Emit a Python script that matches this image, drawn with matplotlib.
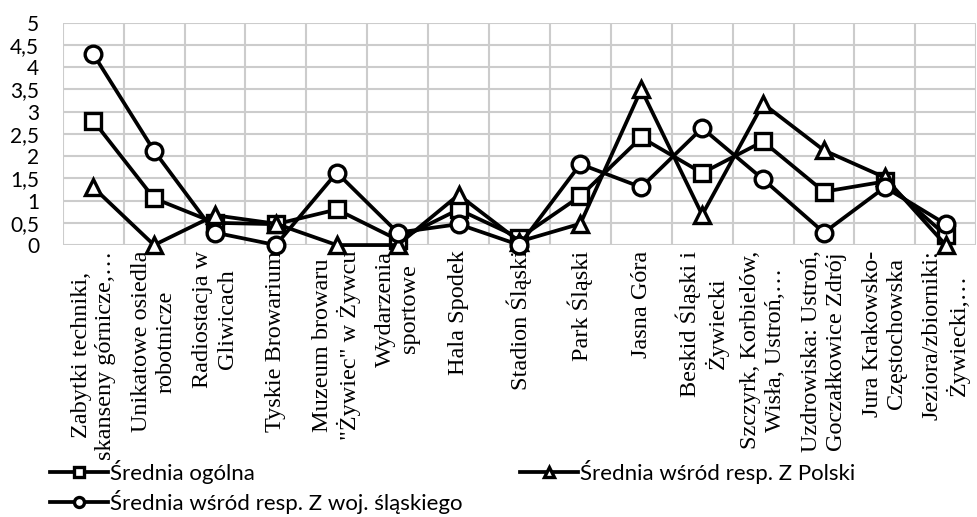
import matplotlib.pyplot as plt
from matplotlib.ticker import MultipleLocator, FuncFormatter

# dane
kategorie = [
    "Zabytki techniki,\nskanseny górnicze,…",
    "Unikatowe osiedla\nrobotnicze",
    "Radiostacja w\nGliwicach",
    "Tyskie Browarium",
    "Muzeum browaru\n\"Żywiec\" w Żywcu",
    "Wydarzenia\nsportowe",
    "Hala Spodek",
    "Stadion Śląski",
    "Park Śląski",
    "Jasna Góra",
    "Beskid Śląski i\nŻywiecki",
    "Szczyrk, Korbielów,\nWisła, Ustroń,…",
    "Uzdrowiska: Ustroń,\nGoczałkowice Zdrój",
    "Jura Krakowsko-\nCzęstochowska",
    "Jeziora/zbiorniki:\nŻywiecki,…",
]
srednia_ogolna = [2.8, 1.05, 0.5, 0.47, 0.8, 0.12, 0.8, 0.16, 1.1, 2.42, 1.62, 2.33, 1.2, 1.43, 0.22]
srednia_polska = [1.3, 0.0, 0.67, 0.48, 0.0, 0.0, 1.13, 0.08, 0.48, 3.5, 0.68, 3.18, 2.13, 1.52, 0.0]
srednia_slask = [4.3, 2.12, 0.28, 0.0, 1.63, 0.28, 0.47, 0.0, 1.82, 1.3, 2.63, 1.48, 0.28, 1.3, 0.47]

x = list(range(len(kategorie)))

fig = plt.figure(figsize=(9.77, 5.17), dpi=100)
ax = fig.add_axes([0.0642, 0.526, 0.935, 0.430])

styl = dict(color='black', linewidth=2.7, markerfacecolor='white',
            markeredgecolor='black', markeredgewidth=2.4)
l1, = ax.plot(x, srednia_ogolna, marker='s', markersize=11, label='Średnia ogólna', **styl)
l2, = ax.plot(x, srednia_polska, marker='^', markersize=11, label='Średnia wśród resp. Z Polski', **styl)
l3, = ax.plot(x, srednia_slask, marker='o', markersize=12, label='Średnia wśród resp. Z woj. śląskiego', **styl)
for l in (l1, l2, l3):
    l.set_clip_on(False)

ax.set_xlim(-0.5, len(kategorie) - 0.5)
ax.set_ylim(0, 5)
ax.yaxis.set_major_locator(MultipleLocator(0.5))
ax.yaxis.set_major_formatter(FuncFormatter(lambda v, p: f"{v:g}".replace('.', ',')))
ax.set_xticks(x)
ax.set_xticklabels(kategorie, rotation=90, family='Liberation Serif', fontsize=17.5,
                   va='top', ha='center', multialignment='center', linespacing=1.2)
ax.set_xticks([i - 0.5 for i in range(len(kategorie) + 1)], minor=True)
ax.tick_params(axis='both', which='both', length=0)
ax.tick_params(axis='x', pad=4)
ax.tick_params(axis='y', pad=17)
for t in ax.get_yticklabels():
    t.set_family('Lato')
    t.set_fontsize(15)

ax.grid(True, axis='y', which='major', color='#cccccc', linewidth=1.5)
ax.grid(True, axis='x', which='minor', color='#cccccc', linewidth=1.5)
ax.set_axisbelow(True)
for s in ax.spines.values():
    s.set_visible(False)

fig.legend(handles=[l1, l3, l2], ncol=2, loc='upper left',
           bbox_to_anchor=(0.051, 0.11), frameon=False,
           prop={'family': 'Lato', 'size': 16}, handlelength=2.6, markerscale=0.6,
           handletextpad=0.1, columnspacing=2.6, labelspacing=0.27,
           borderaxespad=0, borderpad=0)

plt.savefig('out.png', dpi=100)
